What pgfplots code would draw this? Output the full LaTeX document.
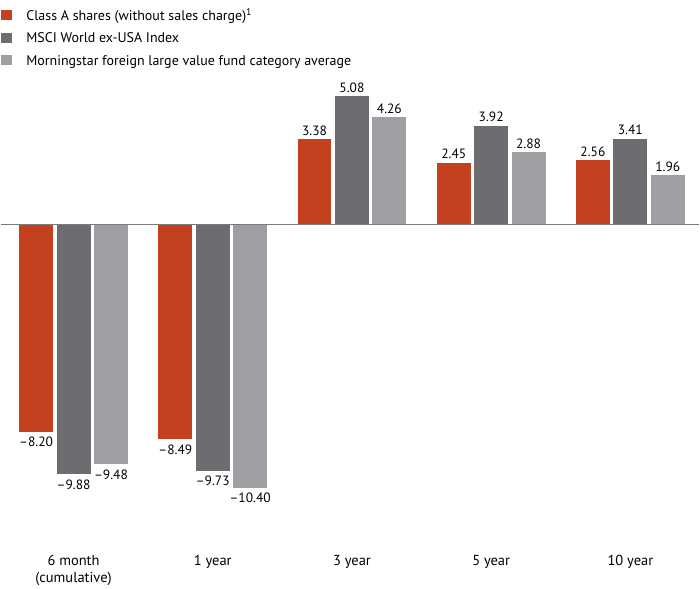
\documentclass[border=0pt]{standalone}
\usepackage{pgfplots}
\pgfplotsset{compat=1.18}
\usepackage{pgfplotstable}
\usepackage{fontspec}
\setmainfont{PT Sans}
\definecolor{cred}{HTML}{C4401F}
\definecolor{cdark}{HTML}{6D6D71}
\definecolor{clight}{HTML}{9D9FA2}
\definecolor{czero}{HTML}{7A7A7A}
\pgfplotstableread{
x a la b lb c lc
0 -8.20 --8.20 -9.88 --9.88 -9.48 --9.48
1 -8.49 --8.49 -9.73 --9.73 -10.40 --10.40
2 3.38 3.38 5.08 5.08 4.26 4.26
3 2.45 2.45 3.92 3.92 2.88 2.88
4 2.56 2.56 3.41 3.41 1.96 1.96
}\data
\begin{document}
\begin{tikzpicture}
\begin{axis}[
  width=700pt, height=588pt, scale only axis,
  hide axis, clip=false,
  xmin=-0.523, xmax=4.495,
  ymin=-14.291, ymax=8.858,
  ybar=2.5pt, bar width=35pt,
  every axis plot/.append style={draw=white, line width=1pt},
  point meta=explicit symbolic,
  visualization depends on={y \as \rawy},
  nodes near coords,
  every node near coord/.append style={font=\fontsize{13.5}{15}\selectfont, text=black,
    inner sep=0pt, anchor=base, yshift={ifthenelse(\rawy<0,-14.5,3.5)}},
  legend style={at={(0,1)}, anchor=north west, draw=none, fill=none,
    inner xsep=0pt, inner ysep=6pt, row sep=7pt,
    font=\fontsize{14}{16}\selectfont,
    /tikz/every odd column/.append style={column sep=12pt}},
  legend cell align=left,
  legend image code/.code={\fill[#1,draw=none] (2pt,-4.5pt) rectangle (13.5pt,5.5pt);},
]
\path (rel axis cs:0,0) rectangle (rel axis cs:1,1);
\addplot[fill=cred] table[x=x,y=a,meta=la]{\data};
\addplot[fill=cdark] table[x=x,y=b,meta=lb]{\data};
\addplot[fill=clight] table[x=x,y=c,meta=lc]{\data};
\legend{Class A shares (without sales charge)\textsuperscript{1},MSCI World ex-USA Index,Morningstar foreign large value fund category average}
\draw[czero, line width=1.5pt] (axis cs:-0.523,0) -- (axis cs:4.495,0);
\begin{scope}[every node/.style={font=\fontsize{14.5}{16}\selectfont, anchor=base}]
\node at (axis cs:0,-13.45) {6 month};
\node at (axis cs:0,-14.12) {(cumulative)};
\node at (axis cs:1,-13.45) {1 year};
\node at (axis cs:2,-13.45) {3 year};
\node at (axis cs:3,-13.45) {5 year};
\node at (axis cs:4,-13.45) {10 year};
\end{scope}
\end{axis}
\end{tikzpicture}
\end{document}
